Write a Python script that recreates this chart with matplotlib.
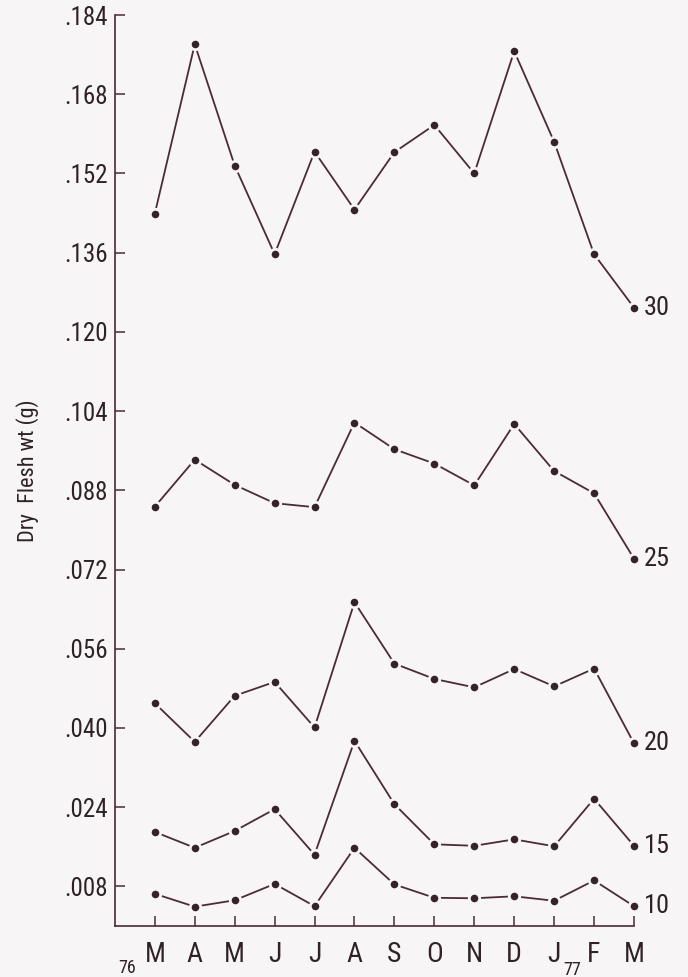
import numpy as np
import matplotlib
matplotlib.use("Agg")
import matplotlib.pyplot as plt

plt.rcParams['font.family'] = ['Roboto Condensed', 'Liberation Sans Narrow', 'Roboto', 'DejaVu Sans']

months = ['M', 'A', 'M', 'J', 'J', 'A', 'S', 'O', 'N', 'D', 'J', 'F', 'M']
yticks = [0.008, 0.024, 0.040, 0.056, 0.072, 0.088, 0.104, 0.120, 0.136, 0.152, 0.168, 0.184]

# dry flesh weight (g) by size class (mm)
s30 = [0.1439, 0.1781, 0.1536, 0.1357, 0.1564, 0.1447, 0.1563, 0.1618, 0.1520, 0.1767, 0.1584, 0.1357, 0.1249]
s25 = [0.0847, 0.0942, 0.0891, 0.0854, 0.0846, 0.1017, 0.0963, 0.0934, 0.0890, 0.1014, 0.0919, 0.0874, 0.0742]
s20 = [0.0450, 0.0372, 0.0465, 0.0493, 0.0401, 0.0654, 0.0530, 0.0499, 0.0482, 0.0519, 0.0484, 0.0520, 0.0369]
s15 = [0.0190, 0.0158, 0.0192, 0.0236, 0.0144, 0.0374, 0.0246, 0.0165, 0.0162, 0.0175, 0.0161, 0.0257, 0.0162]
s10 = [0.0065, 0.0039, 0.0052, 0.0085, 0.0040, 0.0158, 0.0084, 0.0057, 0.0056, 0.0060, 0.0051, 0.0092, 0.0040]
series = [('30', s30), ('25', s25), ('20', s20), ('15', s15), ('10', s10)]

bg = '#f8f5f7'
ink = '#4a2b36'
dot = '#35232b'
txt = '#2e2226'

fig = plt.figure(figsize=(6.88, 9.77), dpi=100, facecolor=bg)
ax = fig.add_axes([0.167, 0.0522, 0.7545, 0.9324], facecolor=bg)

x = np.arange(len(months))
for lab, vals in series:
    ax.plot(x, vals, color=ink, lw=1.3, marker='o', ms=7.5, mfc=dot,
            mec=bg, mew=2.0, clip_on=False, zorder=3)
    ax.annotate(lab, (x[-1], vals[-1]), xytext=(7, 0), textcoords='offset points',
                va='center', ha='left', fontsize=19, color=txt)

ax.set_xlim(-1, 12)
ax.set_ylim(0, 0.184)
ax.set_xticks(x)
ax.set_xticklabels(months, fontsize=20, color=txt)
ax.set_yticks(yticks)
ax.set_yticklabels(['.%03d' % round(v * 1000) for v in yticks], fontsize=18, color=txt)
ax.tick_params(axis='both', direction='in', length=7, width=1.1, color=ink)
ax.tick_params(axis='x', pad=11)
ax.tick_params(axis='y', pad=5)

for s in ['top', 'right']:
    ax.spines[s].set_visible(False)
for s in ['left', 'bottom']:
    ax.spines[s].set_color(ink)
    ax.spines[s].set_linewidth(1.2)

ax.set_ylabel('Dry  Flesh wt (g)', fontsize=16, color=txt, labelpad=18)

# year marks next to the month labels
ax.text(-0.7, -0.0085, '76', fontsize=13, color=txt, ha='center', va='center', clip_on=False)
ax.text(10.45, -0.0088, '77', fontsize=13, color=txt, ha='center', va='center', clip_on=False)

fig.savefig('out.png', dpi=100, facecolor=bg)
